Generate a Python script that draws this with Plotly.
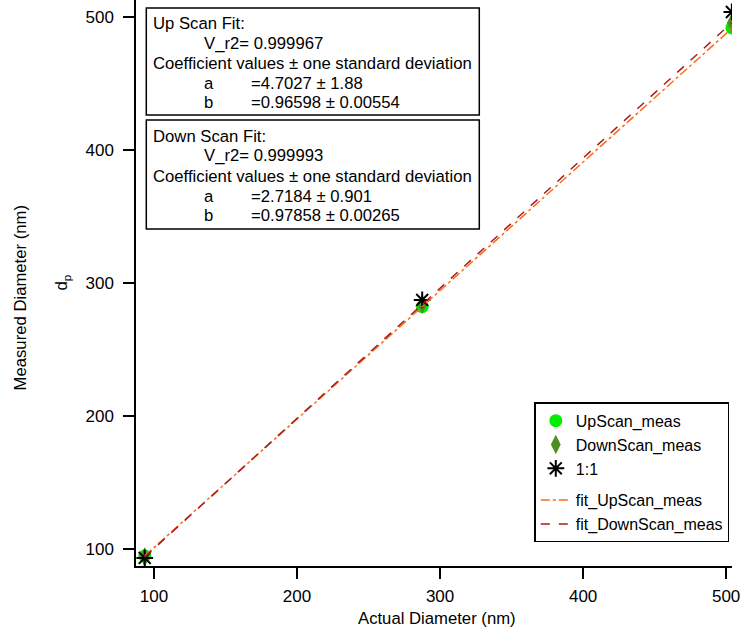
import plotly.graph_objects as go

# ---- data ----
actual_nm = [93.5, 287.5, 504.0]
upscan_meas = [95.0, 282.5, 492.0]
downscan_meas = [94.2, 284.1, 495.9]
one_to_one = [93.5, 287.5, 504.0]
fit_upscan = [95.0, 282.4, 491.6]
fit_downscan = [94.2, 284.1, 495.9]

x_ticks = [100, 200, 300, 400, 500]
y_ticks = [100, 200, 300, 400, 500]

up_fit_text = ["Up Scan Fit:", "V_r2= 0.999967",
               "Coefficient values ± one standard deviation",
               "a", "=4.7027 ± 1.88", "b", "=0.96598 ± 0.00554"]
down_fit_text = ["Down Scan Fit:", "V_r2= 0.999993",
                 "Coefficient values ± one standard deviation",
                 "a", "=2.7184 ± 0.901", "b", "=0.97858 ± 0.00265"]

# ---- layout geometry (pixels) ----
W, H = 741, 630
L, R, T, B = 135.7, 731.7, 0.0, 565.7
FONT = "Liberation Sans, Arial, sans-serif"
FS = 16.7


def px(x):
    return (x - L) / (R - L)


def py(y):
    return (B - y) / (B - T)


fig = go.Figure()
fig.add_trace(go.Scatter(
    x=actual_nm, y=upscan_meas, mode="markers", name="UpScan_meas",
    legendgroup="meas",
    marker=dict(symbol="circle", size=13, color="#00ee00")))
fig.add_trace(go.Scatter(
    x=actual_nm, y=downscan_meas, mode="markers", name="DownScan_meas",
    legendgroup="meas",
    marker=dict(symbol="diamond-tall", size=14, color="#4f8f1f")))
fig.add_trace(go.Scatter(
    x=actual_nm, y=one_to_one, mode="markers", name="1:1",
    legendgroup="meas",
    marker=dict(symbol="asterisk-open", size=14, color="black",
                line=dict(color="black", width=2))))
fig.add_trace(go.Scatter(
    x=actual_nm, y=fit_upscan, mode="lines", name="fit_UpScan_meas",
    legendgroup="fit",
    line=dict(color="#ff6a1a", width=1.5, dash="dashdot")))
fig.add_trace(go.Scatter(
    x=actual_nm, y=fit_downscan, mode="lines", name="fit_DownScan_meas",
    legendgroup="fit",
    line=dict(color="#a51e1e", width=1.5, dash="dash")))

axis_common = dict(
    showgrid=False, zeroline=False, showline=True, linecolor="black",
    linewidth=1.5, ticks="outside", ticklen=11, tickwidth=1.5,
    tickcolor="black", tickfont=dict(family=FONT, size=17, color="black"),
    mirror=False,
)
fig.update_xaxes(range=[87.4, 504.1], tickvals=x_ticks,
                 ticklabelstandoff=3, **axis_common)
fig.update_yaxes(range=[87.4, 513.0], tickvals=y_ticks,
                 ticklabelstandoff=6, **axis_common)

# ---- text boxes ----
shapes = []
annotations = []
boxes = [
    (146, 8, 479, 115, up_fit_text, [23, 43, 63, 83, 102]),
    (146, 120, 479, 229, down_fit_text, [136, 155, 176, 196, 215]),
]
for x0, y0, x1, y1, lines, ys in boxes:
    shapes.append(dict(type="rect", xref="paper", yref="paper",
                       x0=px(x0), x1=px(x1), y0=py(y1), y1=py(y0),
                       line=dict(color="black", width=1.5),
                       fillcolor="white", layer="above"))
    placements = [
        (151, ys[0], lines[0]),
        (202, ys[1], lines[1]),
        (151, ys[2], lines[2]),
        (202, ys[3], lines[3]),
        (249, ys[3], lines[4]),
        (202, ys[4], lines[5]),
        (249, ys[4], lines[6]),
    ]
    for xx, yy, t in placements:
        annotations.append(dict(
            x=px(xx), y=py(yy), xref="paper", yref="paper", text=t,
            showarrow=False, xanchor="left", yanchor="middle",
            font=dict(family=FONT, size=FS, color="black")))

# axis titles
annotations.append(dict(
    x=px(437), y=py(618), xref="paper", yref="paper",
    text="Actual Diameter (nm)", showarrow=False,
    xanchor="center", yanchor="middle",
    font=dict(family=FONT, size=FS, color="black")))
annotations.append(dict(
    x=px(20), y=py(298), xref="paper", yref="paper",
    text="Measured Diameter (nm)", showarrow=False, textangle=-90,
    xanchor="center", yanchor="middle",
    font=dict(family=FONT, size=FS, color="black")))
annotations.append(dict(
    x=px(62), y=py(282), xref="paper", yref="paper",
    text="d<sub>p</sub>", showarrow=False, textangle=-90,
    xanchor="center", yanchor="middle",
    font=dict(family=FONT, size=FS, color="black")))

fig.update_layout(
    width=W, height=H,
    margin=dict(l=L, r=W - R, t=T, b=H - B, pad=0),
    plot_bgcolor="white", paper_bgcolor="white",
    shapes=shapes, annotations=annotations,
    showlegend=True,
    legend=dict(
        x=px(729), y=py(542), xanchor="right", yanchor="bottom",
        bgcolor="white", bordercolor="black", borderwidth=1.5,
        font=dict(family=FONT, size=16, color="black"),
        traceorder="grouped", tracegroupgap=8, itemwidth=30,
    ),
)

fig.write_html("out.html")
